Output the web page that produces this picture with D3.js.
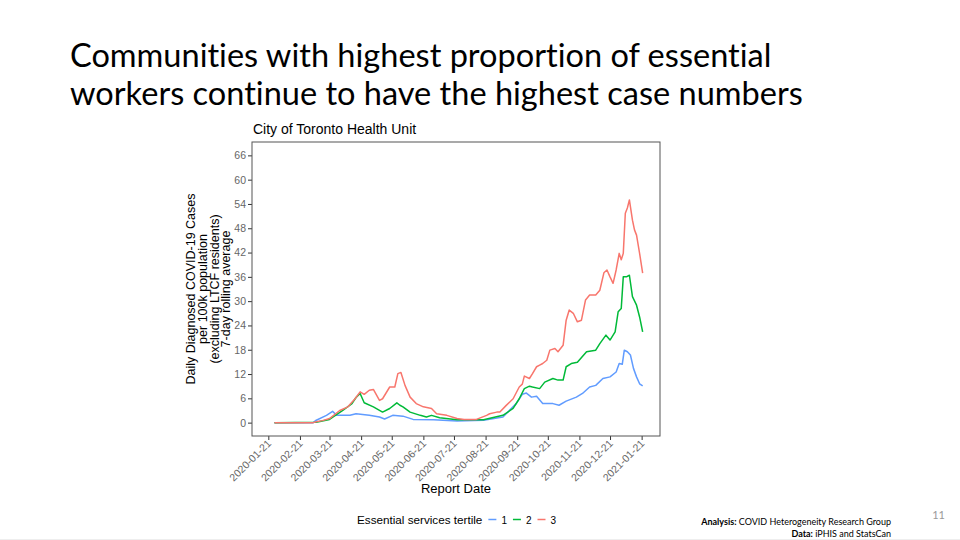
<!DOCTYPE html>
<html><head><meta charset="utf-8">
<script src="https://cdn.jsdelivr.net/npm/d3@7"></script>
<style>body{margin:0;background:#fff}svg{display:block}text{font-variant-ligatures:none}</style>
</head><body>
<script>
// ---------------- data ----------------
const titleLines = ["Communities with highest proportion of essential", "workers continue to have the highest case numbers"];
const chartTitle = "City of Toronto Health Unit";
const yTitleLines = ["Daily Diagnosed COVID-19 Cases", "per 100k population", "(excluding LTCF residents)", "7-day rolling average"];
const xTitle = "Report Date";
const yTicks = [0, 6, 12, 18, 24, 30, 36, 42, 48, 54, 60, 66];
const xTickLabels = ["2020-01-21","2020-02-21","2020-03-21","2020-04-21","2020-05-21","2020-06-21","2020-07-21","2020-08-21","2020-09-21","2020-10-21","2020-11-21","2020-12-21","2021-01-21"];
const seriesNames = ["1", "2", "3"];
const seriesColors = ["#619CFF", "#00BA38", "#F8766D"];

const tertile1Dates = ["2020-01-27","2020-03-05","2020-03-08","2020-03-18","2020-03-24","2020-03-28","2020-04-10","2020-04-16","2020-04-29","2020-05-09","2020-05-14","2020-05-22","2020-06-01","2020-06-11","2020-07-01","2020-07-24","2020-08-19","2020-09-07","2020-09-20","2020-09-26","2020-09-30","2020-10-05","2020-10-10","2020-10-16","2020-10-26","2020-11-01","2020-11-08","2020-11-18","2020-11-24","2020-12-01","2020-12-07","2020-12-14","2020-12-21","2020-12-27","2020-12-30","2021-01-02","2021-01-04","2021-01-07","2021-01-10","2021-01-13","2021-01-16","2021-01-19","2021-01-22"];
const tertile1Values = [0,0,0.6,1.8,2.8,1.8,1.8,2.2,1.8,1.4,0.9,1.8,1.6,0.8,0.7,0.4,0.6,1.4,4.7,7.0,7.3,6.3,6.5,4.7,4.7,4.3,5.3,6.3,7.2,8.8,9.2,10.9,11.3,12.5,14.6,14.4,17.9,17.5,16.7,13.4,11.3,9.6,9.1];

const tertile2Dates = ["2020-01-27","2020-03-08","2020-03-21","2020-04-03","2020-04-12","2020-04-16","2020-04-20","2020-04-24","2020-05-03","2020-05-12","2020-05-19","2020-05-26","2020-05-29","2020-06-01","2020-06-08","2020-06-18","2020-06-24","2020-06-29","2020-07-07","2020-07-24","2020-08-19","2020-09-07","2020-09-17","2020-09-23","2020-09-28","2020-10-03","2020-10-06","2020-10-13","2020-10-18","2020-10-26","2020-10-31","2020-11-05","2020-11-08","2020-11-13","2020-11-19","2020-11-28","2020-12-07","2020-12-11","2020-12-17","2020-12-21","2020-12-26","2020-12-29","2021-01-01","2021-01-03","2021-01-06","2021-01-09","2021-01-12","2021-01-16","2021-01-19","2021-01-22"];
const tertile2Values = [0,0.1,0.8,3.0,4.7,6.2,7.2,4.9,3.9,2.6,3.5,4.9,4.3,3.9,2.6,1.8,1.4,1.8,1.2,0.7,0.7,1.8,3.5,5.9,8.4,9.0,8.8,8.4,10.0,10.9,10.5,10.5,13.8,14.6,14.9,17.5,17.9,19.5,21.6,20.4,22.4,27.4,28.2,36.0,36.0,36.4,31.1,29.0,26.1,22.4];

const tertile3Dates = ["2020-01-27","2020-03-05","2020-03-08","2020-03-14","2020-03-21","2020-03-31","2020-04-08","2020-04-15","2020-04-20","2020-04-24","2020-04-29","2020-05-03","2020-05-09","2020-05-12","2020-05-19","2020-05-24","2020-05-27","2020-05-30","2020-06-03","2020-06-08","2020-06-14","2020-06-21","2020-06-29","2020-07-04","2020-07-14","2020-07-24","2020-07-31","2020-08-12","2020-08-22","2020-08-25","2020-09-01","2020-09-04","2020-09-10","2020-09-17","2020-09-23","2020-09-26","2020-09-28","2020-10-03","2020-10-06","2020-10-10","2020-10-13","2020-10-16","2020-10-20","2020-10-23","2020-10-28","2020-10-31","2020-11-05","2020-11-08","2020-11-11","2020-11-15","2020-11-19","2020-11-23","2020-11-27","2020-12-01","2020-12-07","2020-12-11","2020-12-15","2020-12-18","2020-12-21","2020-12-24","2020-12-27","2020-12-30","2021-01-01","2021-01-03","2021-01-05","2021-01-07","2021-01-09","2021-01-12","2021-01-14","2021-01-16","2021-01-19","2021-01-22"];
const tertile3Values = [0,0,0.2,0.5,1.0,3.0,3.9,5.9,7.6,7.0,8.0,8.2,5.5,5.9,8.8,8.8,12.1,12.4,9.2,6.3,4.7,3.9,3.5,2.2,1.8,1.0,0.8,0.8,1.8,2.2,2.6,2.6,4.2,5.9,8.8,9.5,11.5,10.9,12.1,13.8,14.2,14.6,15.4,17.9,18.3,17.5,19.1,25.3,27.8,27.0,24.9,25.3,30.3,31.5,31.5,32.7,37.0,37.7,36.0,34.4,37.7,41.8,40.2,41.8,51.7,53.0,55.0,50.0,47.6,46.3,41.8,36.9];

const legendTitle = "Essential services tertile";
const creditAnalysis = ["Analysis:", " COVID Heterogeneity Research Group"];
const creditData = ["Data:", " iPHIS and StatsCan"];
const pageNumber = "11";

// ---------------- drawing ----------------
const W = 960, H = 540;
const svg = d3.select("body").append("svg").attr("width", W).attr("height", H);
const parse = d3.utcParse("%Y-%m-%d");

// slide title
const tg = svg.append("g").attr("font-family", "Lato, 'Open Sans', sans-serif").attr("fill", "#000");
const tl = tg.selectAll("text").data(titleLines).join("text")
  .attr("x", 70).attr("y", (d, i) => 67 + i * 38).attr("font-size", 32).text(d => d);
const w2 = tl.nodes()[1].getComputedTextLength();
tl.attr("font-size", 32 * 733 / w2);

const panel = {l: 252, r: 660, t: 142, b: 436};
const x = d3.scaleUtc().domain([parse("2020-01-05"), parse("2021-02-08")]).range([panel.l, panel.r]);
const y = d3.scaleLinear().domain([-3.3, 69.3]).range([panel.b, panel.t]);

const font = "'Liberation Sans', Arial, sans-serif";

svg.append("text").attr("x", panel.l + 1).attr("y", 134).attr("font-family", font)
  .attr("font-size", 14).attr("fill", "#000").text(chartTitle);

// y axis
const yAxis = svg.append("g").attr("transform", `translate(${panel.l},0)`)
  .call(d3.axisLeft(y).tickValues(yTicks).tickSize(4).tickPadding(2));
yAxis.select(".domain").remove();
yAxis.selectAll(".tick line").attr("stroke", "#333");
yAxis.selectAll(".tick text").attr("font-family", font).attr("font-size", 10.5).attr("fill", "#666");

// x axis
const xAxis = svg.append("g").attr("transform", `translate(0,${panel.b})`)
  .call(d3.axisBottom(x).tickValues(xTickLabels.map(parse)).tickFormat(d3.utcFormat("%Y-%m-%d")).tickSize(4).tickPadding(2));
xAxis.select(".domain").remove();
xAxis.selectAll(".tick line").attr("stroke", "#333");
xAxis.selectAll(".tick text").attr("font-family", font).attr("font-size", 10.5).attr("fill", "#666")
  .attr("text-anchor", "end").attr("dy", null).attr("y", 0)
  .attr("transform", "translate(3,8) rotate(-45)");

// panel border
svg.append("rect").attr("x", panel.l).attr("y", panel.t).attr("width", panel.r - panel.l).attr("height", panel.b - panel.t)
  .attr("fill", "none").attr("stroke", "#555").attr("stroke-width", 1);

// lines
const series = [
  {name: seriesNames[0], color: seriesColors[0], pts: tertile1Dates.map((d, i) => [parse(d), tertile1Values[i]])},
  {name: seriesNames[1], color: seriesColors[1], pts: tertile2Dates.map((d, i) => [parse(d), tertile2Values[i]])},
  {name: seriesNames[2], color: seriesColors[2], pts: tertile3Dates.map((d, i) => [parse(d), tertile3Values[i]])}
];
const line = d3.line().x(d => x(d[0])).y(d => y(d[1]));
svg.append("g").selectAll("path").data(series).join("path")
  .attr("d", d => line(d.pts)).attr("fill", "none").attr("stroke", d => d.color)
  .attr("stroke-width", 1.5).attr("stroke-linejoin", "round");

// axis titles
svg.append("text").attr("x", (panel.l + panel.r) / 2).attr("y", 493).attr("text-anchor", "middle")
  .attr("font-family", font).attr("font-size", 13).attr("fill", "#000").text(xTitle);
const ycy = (panel.t + panel.b) / 2;
svg.append("g").selectAll("text").data(yTitleLines).join("text")
  .attr("transform", (d, i) => `translate(${195 + i * 11.8},${ycy}) rotate(-90)`)
  .attr("text-anchor", "middle").attr("font-family", font).attr("font-size", 12.5).attr("fill", "#000")
  .text(d => d);

// legend
const lg = svg.append("g").attr("font-family", font).attr("font-size", 11.7);
const lt = lg.append("text").attr("x", 357).attr("y", 524).attr("fill", "#000").text(legendTitle);
let lx = 357 + lt.node().getComputedTextLength() + 6;
series.forEach(s => {
  lg.append("line").attr("x1", lx).attr("x2", lx + 8).attr("y1", 519.5).attr("y2", 519.5)
    .attr("stroke", s.color).attr("stroke-width", 1.5);
  const t = lg.append("text").attr("x", lx + 13).attr("y", 524).attr("font-size", 10).attr("fill", "#000").text(s.name);
  lx += 13 + t.node().getComputedTextLength() + 6;
});

// credits
const cg = svg.append("g").attr("font-family", "Lato, 'Open Sans', sans-serif").attr("font-size", 9).attr("fill", "#000").attr("text-anchor", "end");
[creditAnalysis, creditData].forEach((c, i) => {
  const t = cg.append("text").attr("x", 891).attr("y", 525 + i * 12);
  t.append("tspan").attr("font-weight", "bold").text(c[0]);
  t.append("tspan").text(c[1]);
});
svg.append("text").attr("x", 945).attr("y", 519).attr("text-anchor", "end").attr("font-family", "Lato, sans-serif")
  .attr("font-size", 11).attr("fill", "#999").text(pageNumber);
svg.append("line").attr("x1", 0).attr("x2", W).attr("y1", 539.5).attr("y2", 539.5).attr("stroke", "#eee");
</script>
</body></html>
